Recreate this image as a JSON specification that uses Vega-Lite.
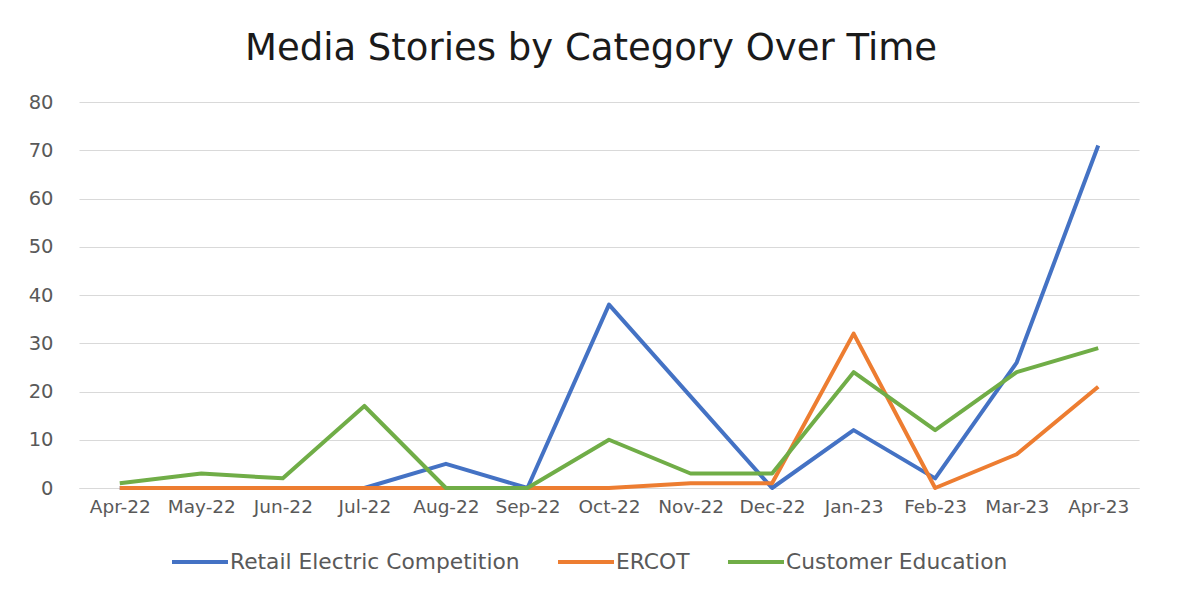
{
  "$schema": "https://vega.github.io/schema/vega-lite/v6.json",
  "width": 1060,
  "height": 386,
  "autosize": {"type": "none"},
  "padding": {"left": 79, "top": 102, "right": 39, "bottom": 109},
  "background": "white",
  "title": {
    "text": "Media Stories by Category Over Time",
    "font": "DejaVu Sans",
    "fontSize": 37,
    "fontWeight": "normal",
    "color": "#1a1a1a",
    "anchor": "middle",
    "dx": -18,
    "offset": 24
  },
  "data": {
    "values": [
      {"month": "Apr-22", "series": "Retail Electric Competition", "stories": 0},
      {"month": "May-22", "series": "Retail Electric Competition", "stories": 0},
      {"month": "Jun-22", "series": "Retail Electric Competition", "stories": 0},
      {"month": "Jul-22", "series": "Retail Electric Competition", "stories": 0},
      {"month": "Aug-22", "series": "Retail Electric Competition", "stories": 5},
      {"month": "Sep-22", "series": "Retail Electric Competition", "stories": 0},
      {"month": "Oct-22", "series": "Retail Electric Competition", "stories": 38},
      {"month": "Nov-22", "series": "Retail Electric Competition", "stories": 19},
      {"month": "Dec-22", "series": "Retail Electric Competition", "stories": 0},
      {"month": "Jan-23", "series": "Retail Electric Competition", "stories": 12},
      {"month": "Feb-23", "series": "Retail Electric Competition", "stories": 2},
      {"month": "Mar-23", "series": "Retail Electric Competition", "stories": 26},
      {"month": "Apr-23", "series": "Retail Electric Competition", "stories": 71},
      {"month": "Apr-22", "series": "ERCOT", "stories": 0},
      {"month": "May-22", "series": "ERCOT", "stories": 0},
      {"month": "Jun-22", "series": "ERCOT", "stories": 0},
      {"month": "Jul-22", "series": "ERCOT", "stories": 0},
      {"month": "Aug-22", "series": "ERCOT", "stories": 0},
      {"month": "Sep-22", "series": "ERCOT", "stories": 0},
      {"month": "Oct-22", "series": "ERCOT", "stories": 0},
      {"month": "Nov-22", "series": "ERCOT", "stories": 1},
      {"month": "Dec-22", "series": "ERCOT", "stories": 1},
      {"month": "Jan-23", "series": "ERCOT", "stories": 32},
      {"month": "Feb-23", "series": "ERCOT", "stories": 0},
      {"month": "Mar-23", "series": "ERCOT", "stories": 7},
      {"month": "Apr-23", "series": "ERCOT", "stories": 21},
      {"month": "Apr-22", "series": "Customer Education", "stories": 1},
      {"month": "May-22", "series": "Customer Education", "stories": 3},
      {"month": "Jun-22", "series": "Customer Education", "stories": 2},
      {"month": "Jul-22", "series": "Customer Education", "stories": 17},
      {"month": "Aug-22", "series": "Customer Education", "stories": 0},
      {"month": "Sep-22", "series": "Customer Education", "stories": 0},
      {"month": "Oct-22", "series": "Customer Education", "stories": 10},
      {"month": "Nov-22", "series": "Customer Education", "stories": 3},
      {"month": "Dec-22", "series": "Customer Education", "stories": 3},
      {"month": "Jan-23", "series": "Customer Education", "stories": 24},
      {"month": "Feb-23", "series": "Customer Education", "stories": 12},
      {"month": "Mar-23", "series": "Customer Education", "stories": 24},
      {"month": "Apr-23", "series": "Customer Education", "stories": 29}
    ]
  },
  "encoding": {
    "x": {
      "field": "month",
      "type": "ordinal",
      "sort": null,
      "scale": {"type": "point", "padding": 0.5},
      "axis": {
        "title": null,
        "labelAngle": 0,
        "ticks": false,
        "domain": true,
        "domainColor": "#d9d9d9",
        "domainWidth": 1,
        "labelPadding": 9,
        "labelFontSize": 18.5,
        "grid": false
      }
    },
    "y": {
      "field": "stories",
      "type": "quantitative",
      "scale": {"domain": [0, 80], "nice": false},
      "axis": {
        "title": null,
        "values": [0, 10, 20, 30, 40, 50, 60, 70, 80],
        "ticks": false,
        "domain": false,
        "grid": true,
        "gridColor": "#d9d9d9",
        "gridWidth": 1,
        "labelPadding": 26,
        "labelFontSize": 19.5
      }
    },
    "color": {
      "field": "series",
      "type": "nominal",
      "scale": {
        "domain": ["Retail Electric Competition", "ERCOT", "Customer Education"],
        "range": ["#4472C4", "#ED7D31", "#70AD47"]
      },
      "legend": {
        "title": null,
        "orient": "none",
        "direction": "horizontal",
        "legendX": 91,
        "legendY": 430,
        "symbolType": "stroke",
        "symbolSize": 3136,
        "symbolStrokeWidth": 4,
        "labelOffset": 0,
        "columnPadding": 30,
        "labelFontSize": 21.8,
        "labelLimit": 500,
        "labelFont": "DejaVu Sans",
        "labelColor": "#595959"
      }
    }
  },
  "layer": [
    {
      "transform": [{"filter": "datum.series === 'Retail Electric Competition'"}],
      "mark": {"type": "line", "strokeWidth": 4, "strokeJoin": "round"}
    },
    {
      "transform": [{"filter": "datum.series === 'ERCOT'"}],
      "mark": {"type": "line", "strokeWidth": 4, "strokeJoin": "round"}
    },
    {
      "transform": [{"filter": "datum.series === 'Customer Education'"}],
      "mark": {"type": "line", "strokeWidth": 4, "strokeJoin": "round"}
    }
  ],
  "config": {
    "view": {"stroke": null},
    "axis": {
      "labelFont": "DejaVu Sans",
      "labelFontSize": 16,
      "labelColor": "#595959"
    }
  }
}
